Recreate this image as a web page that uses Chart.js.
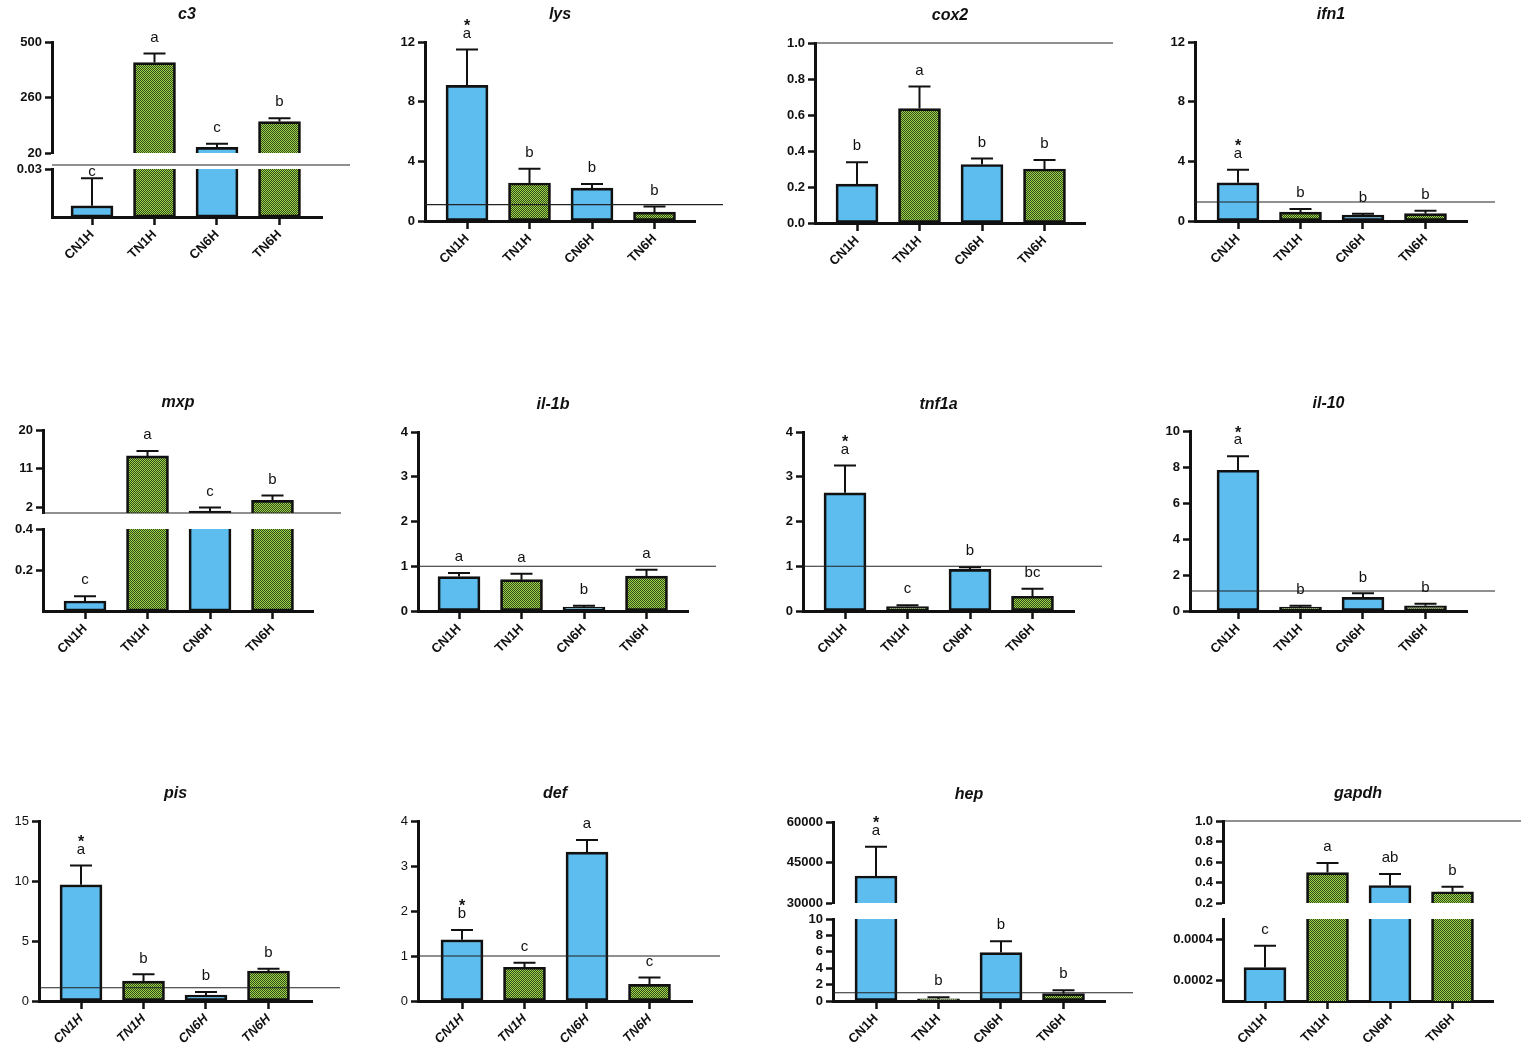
<!DOCTYPE html>
<html>
<head>
<meta charset="utf-8">
<script src="https://cdn.jsdelivr.net/npm/chart.js@4.4.1/dist/chart.umd.min.js"></script>
<style>
  body { margin: 0; background: #fff; width: 1536px; height: 1051px; position: relative; overflow: hidden; }
  canvas { position: absolute; }
</style>
</head>
<body>
<script>
const groups = ['CN1H', 'TN1H', 'CN6H', 'TN6H'];
const genes = ['c3', 'lys', 'cox2', 'ifn1', 'mxp', 'il-1b', 'tnf1a', 'il-10', 'pis', 'def', 'hep', 'gapdh'];

// relative expression, one row per gene, columns follow groups
const means = [
  [0.007, 411, 44, 156],
  [9.1, 2.55, 2.2, 0.6],
  [0.216, 0.636, 0.325, 0.30],
  [2.56, 0.6, 0.4, 0.49],
  [0.049, 13.95, 1.06, 3.56],
  [0.77, 0.70, 0.09, 0.78],
  [2.64, 0.10, 0.93, 0.33],
  [7.82, 0.22, 0.76, 0.29],
  [9.68, 1.66, 0.5, 2.5],
  [1.36, 0.75, 3.31, 0.37],
  [40000, 0.25, 5.9, 0.9],
  [0.000263, 0.497, 0.371, 0.31]
];
const sems = [
  [0.0172, 39, 16, 14],
  [2.4, 0.95, 0.28, 0.37],
  [0.121, 0.122, 0.034, 0.05],
  [0.87, 0.2, 0.09, 0.2],
  [0.023, 1.15, 0.84, 1.14],
  [0.08, 0.13, 0.03, 0.14],
  [0.61, 0.03, 0.05, 0.17],
  [0.78, 0.07, 0.22, 0.11],
  [1.62, 0.56, 0.25, 0.19],
  [0.22, 0.1, 0.27, 0.15],
  [10800, 0.2, 1.4, 0.4],
  [0.000107, 0.093, 0.113, 0.048]
];
const letters = [
  ['c', 'a', 'c', 'b'],
  ['a', 'b', 'b', 'b'],
  ['b', 'a', 'b', 'b'],
  ['a', 'b', 'b', 'b'],
  ['c', 'a', 'c', 'b'],
  ['a', 'a', 'b', 'a'],
  ['a', 'c', 'b', 'bc'],
  ['a', 'b', 'b', 'b'],
  ['a', 'b', 'b', 'b'],
  ['b', 'c', 'a', 'c'],
  ['a', 'b', 'b', 'b'],
  ['c', 'a', 'ab', 'b']
];
// groups marked with * (index into groups)
const starred = [[], [0], [], [0], [], [], [0], [0], [0], [0], [0], []];

// y axis pieces, top piece first: [min, max]
const yRanges = [
  [[20, 500], [0, 0.03]],
  [[0, 12]],
  [[0, 1]],
  [[0, 12]],
  [[0.6, 20], [0, 0.4]],
  [[0, 4]],
  [[0, 4]],
  [[0, 10]],
  [[0, 15]],
  [[0, 4]],
  [[30000, 60000], [0, 10]],
  [[0.2, 1], [0.0001, 0.0005]]
];
const yTickLabels = [
  [['20', '260', '500'], ['0.03']],
  [['0', '4', '8', '12']],
  [['0.0', '0.2', '0.4', '0.6', '0.8', '1.0']],
  [['0', '4', '8', '12']],
  [['2', '11', '20'], ['0.2', '0.4']],
  [['0', '1', '2', '3', '4']],
  [['0', '1', '2', '3', '4']],
  [['0', '2', '4', '6', '8', '10']],
  [['0', '5', '10', '15']],
  [['0', '1', '2', '3', '4']],
  [['30000', '45000', '60000'], ['0', '2', '4', '6', '8', '10']],
  [['0.2', '0.4', '0.6', '0.8', '1.0'], ['0.0002', '0.0004']]
];
// thin control line: [axis piece, value]
const refLines = [[1, 0.0325], [0, 1.1], [0, 1], [0, 1.27], [0, 0.6], [0, 1], [0, 1], [0, 1.11], [0, 1.11], [0, 1], [1, 1], [0, 1]];

// page layout per panel: y axis x, x axis end, first bar centre, top, bottom, [upper piece bottom, lower piece top]
const boxes = [
  [52, 322, 92, 42, 217, 153, 169],
  [425, 695, 467, 42, 221],
  [815, 1085, 857, 43, 223],
  [1195, 1467, 1238, 42, 221],
  [43, 313, 85, 430, 611, 513, 529],
  [418, 688, 459, 432, 611],
  [803, 1074, 845, 432, 611],
  [1190, 1467, 1238, 431, 611],
  [39, 312, 81, 821, 1001],
  [418, 692, 462, 821, 1001],
  [833, 1105, 876, 822, 1001, 903, 919],
  [1223, 1493, 1265, 821, 1001, 903, 919]
];

const SLOT = 62.5, YW = 80, PADR = 40, XH = 62, TITLE_H = 44, GAP = 12;
const INK = '#111';
const BLUE = '#5dbdef';
const FONT = '"Liberation Sans", Arial, Helvetica, sans-serif';
const slanted = ['pis', 'def'];
Chart.defaults.font.family = FONT;

function checker(ctx) {
  const tile = document.createElement('canvas');
  tile.width = tile.height = 2;
  const t = tile.getContext('2d');
  t.fillStyle = '#a2d64a';
  t.fillRect(0, 0, 2, 2);
  t.fillStyle = '#2e4a1a';
  t.fillRect(0, 0, 1, 1);
  t.fillRect(1, 1, 1, 1);
  return ctx.createPattern(tile, 'repeat');
}

// error bars, letters and the control line
const marks = {
  id: 'marks',
  afterDatasetsDraw(chart, args, opts) {
    const { ctx, chartArea: area, scales: { x, y } } = chart;
    const g = opts.gene, piece = opts.piece, pieces = opts.pieces;
    const isUpper = pieces > 1 && piece === 0;
    const isLower = pieces > 1 && piece === pieces - 1;
    ctx.save();
    if (refLines[g][0] === piece) {
      const ry = y.getPixelForValue(refLines[g][1]);
      ctx.strokeStyle = '#222';
      ctx.lineWidth = 1.1;
      ctx.beginPath();
      ctx.moveTo(area.left, ry);
      ctx.lineTo(area.right + 28, ry);
      ctx.stroke();
    }
    means[g].forEach((m, i) => {
      if (isUpper && m < y.min) return;
      if (isLower && m > y.max) return;
      const cx = x.getPixelForValue(i + 1);
      const y0 = y.getPixelForValue(m);
      const y1 = y.getPixelForValue(m + sems[g][i]);
      ctx.strokeStyle = INK;
      ctx.lineWidth = 2;
      ctx.beginPath();
      ctx.moveTo(cx, y0);
      ctx.lineTo(cx, y1);
      ctx.moveTo(cx - 11, y1);
      ctx.lineTo(cx + 11, y1);
      ctx.stroke();
      let ly = y1 - 16;
      if (isLower) ly = Math.max(ly, area.top + 3);
      ctx.fillStyle = INK;
      ctx.textAlign = 'center';
      ctx.textBaseline = 'middle';
      ctx.font = '15px ' + FONT;
      ctx.fillText(letters[g][i], cx, ly);
      if (starred[g].includes(i)) {
        ctx.font = 'bold 16px ' + FONT;
        ctx.fillText('*', cx, ly - 7);
      }
    });
    ctx.restore();
  }
};

genes.forEach((gene, g) => {
  const [ax, axEnd, c0, top, bottom, upBottom, lowTop] = boxes[g];
  const pieces = yRanges[g].length;
  const xMin = 1 - (c0 - ax) / SLOT;
  const xMax = xMin + (axEnd - ax) / SLOT;
  const slant = slanted.includes(gene);

  for (let p = 0; p < pieces; p++) {
    const first = p === 0, last = p === pieces - 1;
    const pTop = first ? top : lowTop;
    const pBottom = last ? bottom : upBottom;
    const cTop = first ? pTop - TITLE_H : pTop - GAP;
    const cH = (pBottom - cTop) + (last ? XH : GAP);
    const cW = YW + (axEnd - ax) + PADR;
    const labels = yTickLabels[g][p];
    const [yMin, yMax] = yRanges[g][p];

    const canvas = document.createElement('canvas');
    canvas.width = cW;
    canvas.height = cH;
    canvas.style.left = (ax - YW) + 'px';
    canvas.style.top = cTop + 'px';
    document.body.appendChild(canvas);
    const ctx = canvas.getContext('2d');
    const green = checker(ctx);

    new Chart(ctx, {
      type: 'bar',
      data: {
        datasets: [{
          data: means[g].map((m, i) => ({ x: i + 1, y: m })),
          backgroundColor: groups.map(gr => gr.startsWith('CN') ? BLUE : green),
          borderColor: INK,
          borderWidth: 2.7,
          borderSkipped: false,
          barThickness: 42,
          clip: 0
        }]
      },
      options: {
        responsive: false,
        animation: false,
        events: [],
        layout: { padding: { left: 0, right: PADR, top: first ? 0 : GAP, bottom: last ? 0 : GAP } },
        plugins: {
          legend: { display: false },
          tooltip: { enabled: false },
          title: {
            display: first,
            text: gene,
            fullSize: false,
            color: INK,
            font: { family: FONT, size: 16, weight: 'bold', style: 'italic' },
            padding: { top: 7, bottom: TITLE_H - 7 - 19.2 }
          },
          marks: { gene: g, piece: p, pieces: pieces }
        },
        scales: {
          x: {
            type: 'linear',
            min: xMin,
            max: xMax,
            offset: false,
            display: last,
            afterBuildTicks: s => { s.ticks = groups.map((_, i) => ({ value: i + 1 })); },
            afterFit: s => { if (last) s.height = XH; },
            ticks: {
              callback: (v, i) => groups[i],
              autoSkip: false,
              minRotation: 45,
              maxRotation: 45,
              padding: 2,
              color: INK,
              font: { family: FONT, size: 13, weight: 'bold', style: slant ? 'italic' : 'normal' }
            },
            grid: { offset: false, drawOnChartArea: false, tickLength: 8, tickWidth: 2.5, tickColor: INK },
            border: { display: true, width: 3, color: INK }
          },
          y: {
            min: yMin,
            max: yMax,
            afterBuildTicks: s => { s.ticks = labels.map(t => ({ value: parseFloat(t) })); },
            afterFit: s => { s.width = YW; },
            ticks: {
              callback: (v, i) => labels[i],
              autoSkip: false,
              padding: 3,
              color: INK,
              font: { family: FONT, size: 13, weight: slant ? 'normal' : 'bold' }
            },
            grid: { drawOnChartArea: false, tickLength: 7, tickWidth: 2.5, tickColor: INK },
            border: { display: true, width: 3, color: INK }
          }
        }
      },
      plugins: [marks]
    });
  }
});
</script>
</body>
</html>
